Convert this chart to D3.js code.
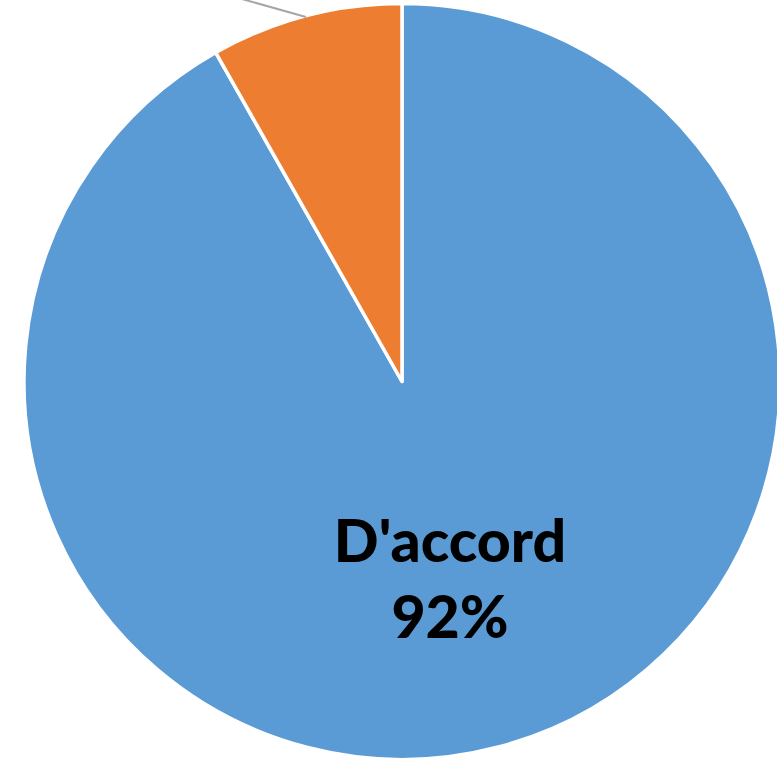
<!DOCTYPE html>
<html>
<head>
<meta charset="utf-8">
<script src="https://cdn.jsdelivr.net/npm/d3@7"></script>
<style>
html,body{margin:0;padding:0;background:#fff;}
svg{display:block;}
</style>
</head>
<body>
<svg id="chart" width="777" height="764"></svg>
<script>
const categories = ["D'accord", "Pas d'accord"];
const values = [91.8, 8.2];
const percentLabels = ["92%", "8%"];
const colors = ["#5B9BD5", "#ED7D31"];

const W = 777, H = 764;
const cx = 402, cy = 381.5, R = 378;

const svg = d3.select("#chart");
const g = svg.append("g").attr("transform", `translate(${cx},${cy})`);

const data = categories.map((c, i) => ({cat: c, value: values[i], pct: percentLabels[i], color: colors[i]}));
const pie = d3.pie().sort(null).value(d => d.value);
const arcs = pie(data);
const arc = d3.arc().innerRadius(0).outerRadius(R);

g.selectAll("path.slice").data(arcs).enter().append("path")
  .attr("class", "slice")
  .attr("d", arc)
  .attr("fill", d => d.data.color)
  .attr("stroke", "#fff")
  .attr("stroke-width", 3.5)
  .attr("stroke-linejoin", "round");

// Leader line for the small slice (its label lies above the visible area)
const small = arcs[1];
const mid = (small.startAngle + small.endAngle) / 2;
const p0 = [Math.sin(mid) * (R - 1), -Math.cos(mid) * (R - 1)];
const dx = -50, dy = -14;
g.append("line")
  .attr("x1", p0[0]).attr("y1", p0[1])
  .attr("x2", p0[0] + dx * 1.6).attr("y2", p0[1] + dy * 1.6)
  .attr("stroke", "#A6A6A6").attr("stroke-width", 2);

// Label for the large slice
const big = arcs[0];
const label = svg.append("text")
  .attr("text-anchor", "middle")
  .attr("font-family", "Lato, 'Open Sans', sans-serif")
  .attr("font-weight", 900)
  .attr("font-size", 59)
  .attr("fill", "#000");
label.append("tspan").attr("x", 450).attr("y", 562).text(big.data.cat);
label.append("tspan").attr("x", 450).attr("y", 638).text(big.data.pct);
</script>
</body>
</html>
